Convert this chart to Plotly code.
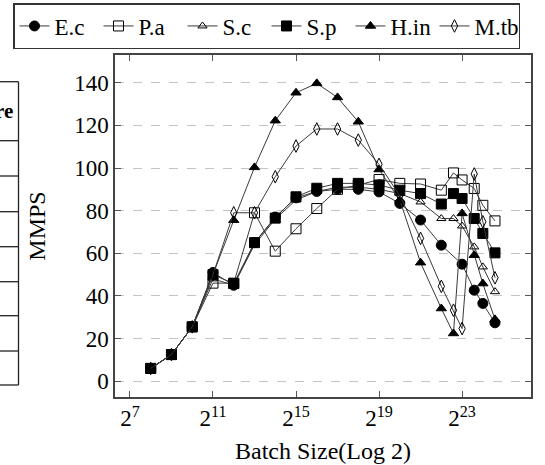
import numpy as np
import plotly.graph_objects as go

# Batch sizes (x): powers of two plus 3*2^k points in the tail
batch = [2**8, 2**9, 2**10, 2**11, 2**12, 2**13, 2**14, 2**15, 2**16, 2**17,
         2**18, 2**19, 2**20, 2**21, 2**22, 3 * 2**21, 2**23, 3 * 2**22, 2**24, 3 * 2**23]

ec   = [6, 12.5, 25.5, 51, 45, 65, 77, 86, 89, 90, 90, 88.8, 83.4, 75.6, 63.8, None, 54.9, 42.7, 36.5, 27.4]
pa   = [6, 12.5, 25.5, 46, 46, 79, 61, 71.5, 81, 90, 92, 94.6, 92.8, 92.5, 89.6, 97.7, 94.4, 90.4, 82.5, 75.2]
sc   = [6, 12.5, 25.5, 48, 45, 64, 76, 85, 89, 91, 91, 90, 88, 84.1, 76.3, 76.3, 72.8, 63, 53.6, 42]
sp   = [6, 12.5, 25.5, 50, 45.8, 65, 76.5, 86.5, 90.5, 92.8, 92.8, 92, 89.6, 88, 83.1, 88, 85.7, 76.3, 69.3, 60.2]
hin  = [6, 12.5, 25.5, 50, 75.5, 100.3, 122.2, 135.3, 139.7, 133.1, 121.7, 99.3, 85, 55.6, 34.1, 22.4, 78.7, 59.1, 45.8, 29]
mtb  = [6, 12.5, 25.5, 50, 79, 79, 95.9, 110.3, 118.3, 118.3, 113.1, 101.7, 87, 67, 44.5, 33.3, 24.7, 97.2, 74.8, 48.5]

names = ["E.c", "P.a", "S.c", "S.p", "H.in", "M.tb"]
series = [ec, pa, sc, sp, hin, mtb]
symbols = ["circle", "square-open", "triangle-up-open", "square", "triangle-up", "diamond-tall-open"]
sizes = [10, 10, 8, 10, 9, 9]

x_tick_exp = [7, 11, 15, 19, 23]
y_ticks = [0, 20, 40, 60, 80, 100, 120, 140]

FONT = "Liberation Serif"

# ordering points by batch size
order = np.argsort(batch)
xb = [batch[i] for i in order]

fig = go.Figure()
for name, vals, sym, sz in zip(names, series, symbols, sizes):
    yv = [vals[i] for i in order]
    fig.add_trace(go.Scatter(
        x=xb, y=yv, name=name, mode="lines+markers", connectgaps=True,
        line=dict(color="#3a3a3a", width=1),
        marker=dict(symbol=sym, size=sz, color="black",
                    line=dict(color="black", width=1)),
    ))

# plot geometry helpers (pixels -> paper)
L, R, T, B = 115, 531, 55, 397
def px(x):
    return (x - L) / (R - L)
def py(y):
    return (B - y) / (B - T)

shapes = []
# clipped table at the left edge
tbl_lines = [81.7, 140.7, 176, 211.7, 246.7, 281.7, 315.7, 351, 385]
for yy in tbl_lines:
    shapes.append(dict(type="line", xref="paper", yref="paper",
                       x0=px(-5), x1=px(18.5), y0=py(yy), y1=py(yy),
                       line=dict(color="#222", width=1.3)))
shapes.append(dict(type="line", xref="paper", yref="paper",
                   x0=px(18.5), x1=px(18.5), y0=py(81.7), y1=py(385),
                   line=dict(color="#222", width=1.3)))

fig.update_layout(
    width=545, height=465,
    margin=dict(l=L, r=545 - R, t=T, b=465 - B, autoexpand=False),
    plot_bgcolor="white", paper_bgcolor="white",
    font=dict(family=FONT, size=23, color="black"),
    shapes=shapes,
    annotations=[dict(text="<b>re</b>", xref="paper", yref="paper",
                      x=px(15), y=py(111), xanchor="right", yanchor="middle",
                      showarrow=False, font=dict(family=FONT, size=21, color="black"))],
    legend=dict(orientation="h", x=px(13), y=py(3), xanchor="left", yanchor="top",
                bordercolor="#333", borderwidth=1.5,
                font=dict(family=FONT, size=23, color="black"),
                bgcolor="white", entrywidth=39, entrywidthmode="pixels",
                tracegroupgap=0),
    xaxis=dict(type="log",
               range=[np.log10(2**6.28), np.log10(2**26.32)],
               tickvals=[2**e for e in x_tick_exp],
               ticktext=[f"2<sup>{e}</sup>" for e in x_tick_exp],
               tickfont=dict(family=FONT, size=23, color="black"),
               ticks="inside", ticklen=6, tickcolor="#555", tickwidth=1.2,
               showline=True, linecolor="#444", linewidth=1.5, mirror="ticks",
               showgrid=False, zeroline=False,
               title=dict(text="Batch Size(Log 2)", standoff=12,
                          font=dict(family=FONT, size=24, color="black"))),
    yaxis=dict(range=[-7.4, 153], tickvals=y_ticks,
               tickfont=dict(family=FONT, size=23, color="black"),
               ticks="inside", ticklen=6, tickcolor="#555", tickwidth=1.2,
               showline=True, linecolor="#444", linewidth=1.5, mirror="ticks",
               showgrid=True, gridcolor="#c4c4c4", griddash="dash", gridwidth=1.3,
               zeroline=False,
               title=dict(text="MMPS", standoff=22,
                          font=dict(family=FONT, size=24, color="black"))),
)

fig.write_html("out.html")
